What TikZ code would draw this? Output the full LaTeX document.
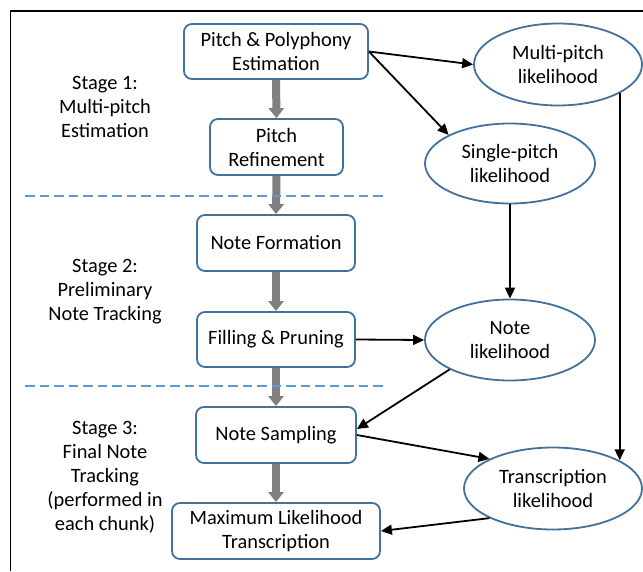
\documentclass[tikz,border=0pt]{standalone}
\usepackage{fontspec}
\setmainfont{Carlito}
\usetikzlibrary{shapes.geometric,arrows.meta}
\definecolor{boxblue}{HTML}{41719C}
\definecolor{dashblue}{HTML}{5B9BD5}
\definecolor{arrgray}{HTML}{808080}
\begin{document}
\begin{tikzpicture}[x=1pt,y=-1pt,
  every node/.style={font=\fontsize{20.4}{24}\selectfont, text=black, align=center},
  procbox/.style={draw=boxblue, line width=1.8pt, rounded corners=8pt, fill=white, inner sep=0pt},
  likeell/.style={draw=boxblue, line width=1.8pt, ellipse, fill=white, inner sep=0pt},
  flowarrow/.style={draw=arrgray, line width=8pt, -{Triangle[width=15pt,length=10pt]}},
  linkarrow/.style={draw=black, line width=1.8pt, -{Triangle[width=10pt,length=11pt]}},
  stagesep/.style={draw=dashblue, line width=2pt, dash pattern=on 9.5pt off 5pt},
  stagelabel/.style={inner sep=0pt}
]
\useasboundingbox (0,0) rectangle (643,571);
\fill[white] (0,0) rectangle (643,571);
\draw[line width=1.3pt] (10.5,571) coordinate (fa) -- (10.5,11) coordinate (fb) -- (643,11) coordinate (fc);

% process boxes
\node[procbox, minimum width=184pt, minimum height=55pt] (b1) at (276,51.5) {Pitch \& Polyphony\\Estimation};
\node[procbox, minimum width=133pt, minimum height=56pt] (b2) at (276.5,147) {Pitch\\Refinement};
\node[procbox, minimum width=158pt, minimum height=56pt] (b3) at (276,243) {Note Formation};
\node[procbox, minimum width=158pt, minimum height=55pt] (b4) at (276,339.5) {Filling \& Pruning};
\node[procbox, minimum width=160pt, minimum height=56pt] (b5) at (276,435) {Note Sampling};
\node[procbox, minimum width=208pt, minimum height=56pt] (b6) at (276,531) {Maximum Likelihood\\Transcription};

% likelihood ellipses
\node[likeell, minimum width=168pt, minimum height=82pt] (mp) at (558,64.5) {Multi-pitch\\likelihood};
\node[likeell, minimum width=170pt, minimum height=80pt] (sp) at (510,163.5) {Single-pitch\\likelihood};
\node[likeell, minimum width=170pt, minimum height=81pt] (nl) at (510,340) {Note\\likelihood};
\node[likeell, minimum width=178pt, minimum height=82pt] (tl) at (553,488.5) {Transcription\\likelihood};

% stage labels
\node[stagelabel] (s1) at (105,107) {Stage 1:\\Multi-pitch\\Estimation};
\node[stagelabel] (s2) at (105,292) {Stage 2:\\Preliminary\\Note Tracking};
\node[stagelabel] (s3) at (105,477) {Stage 3:\\Final Note\\Tracking\\(performed in\\each chunk)};

% gray flow arrows
\draw[flowarrow] (b1.south) -- (b2.north);
\draw[flowarrow] (b2.south) -- (b3.north);
\draw[flowarrow] (b3.south) -- (b4.north);
\draw[flowarrow] (b4.south) -- (b5.north);
\draw[flowarrow] (b5.south) -- (b6.north);

% stage separators
\coordinate (d1a) at (25,196);
\coordinate (d1b) at (387,196);
\coordinate (d2a) at (25,386);
\coordinate (d2b) at (387,386);
\draw[stagesep] (d1a) -- (d1b);
\draw[stagesep] (d2a) -- (d2b);

% black links
\draw[linkarrow] (b1.east) -- (mp.west);
\draw[linkarrow] (b1.east) -- (sp.155);
\draw[linkarrow] (sp.south) -- (nl.north);
\draw[linkarrow] (mp.-25) -- (mp.-25 |- tl.23);
\draw[linkarrow] (b4.east) -- (nl.west);
\draw[linkarrow] (nl.206) -- ([yshift=6pt]b5.east);
\draw[linkarrow] (b5.east) -- (tl.155);
\draw[linkarrow] (tl.205) -- (b6.east);
\end{tikzpicture}
\end{document}
